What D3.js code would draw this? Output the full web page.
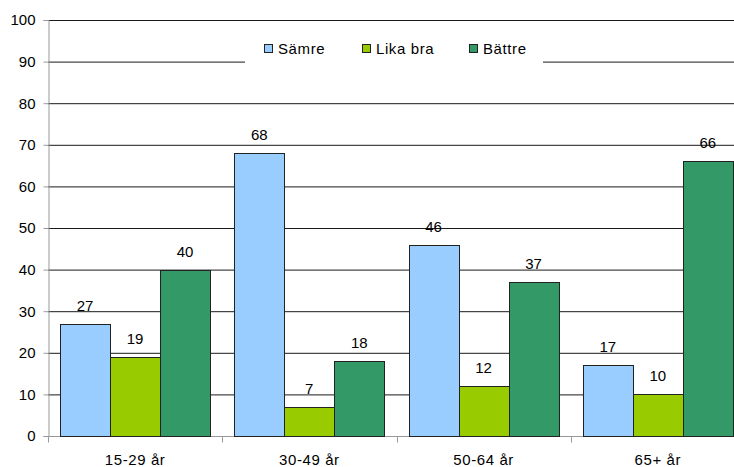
<!DOCTYPE html>
<html>
<head>
<meta charset="utf-8">
<script src="https://cdn.jsdelivr.net/npm/d3@7"></script>
<style>
	body { margin: 0; background: #fff; }
	svg { display: block; font-family: "Liberation Sans", Arial, sans-serif; }
</style>
</head>
<body>
<svg id="chart" width="734" height="467"></svg>
<script>
const categories = ["15-29 år", "30-49 år", "50-64 år", "65+ år"];
const seriesNames = ["Sämre", "Lika bra", "Bättre"];
const seriesColors = ["#99ccff", "#99cc00", "#339966"];
const samre = [27, 68, 46, 17];
const likaBra = [19, 7, 12, 10];
const battre = [40, 18, 37, 66];
const yTicks = [0, 10, 20, 30, 40, 50, 60, 70, 80, 90, 100];

const values = [samre, likaBra, battre];

const svg = d3.select("#chart");
const plotLeft = 48, plotBottom = 436, plotTop = 20, plotRight = 745;

const x0 = d3.scaleBand().domain(categories).range([plotLeft, plotRight]);
const x1 = d3.scaleBand().domain(seriesNames).range([12, 162]);
const y = d3.scaleLinear().domain([0, 100]).range([plotBottom, plotTop]);

// gridlines
svg.append("g")
	.selectAll("line")
	.data(yTicks.filter((d) => d > 0))
	.enter()
	.append("line")
	.attr("x1", plotLeft)
	.attr("x2", 734)
	.attr("y1", (d) => y(d) + 0.5)
	.attr("y2", (d) => y(d) + 0.5)
	.attr("stroke", "#1a1a1a")
	.attr("stroke-width", 1);

// y axis
const yAxis = svg.append("g")
	.attr("transform", `translate(${plotLeft + 0.5},0)`)
	.call(d3.axisLeft(y).tickValues(yTicks).tickSize(5).tickPadding(8));
yAxis.select(".domain").attr("stroke", "#999");
yAxis.selectAll(".tick line").attr("stroke", "#999");
yAxis.selectAll(".tick text")
	.attr("font-size", 15)
	.attr("font-family", "Liberation Sans, Arial, sans-serif")
	.attr("fill", "#000");

// x axis
const xAxisG = svg.append("g").attr("transform", `translate(0,${plotBottom + 0.5})`);
xAxisG.append("line")
	.attr("x1", plotLeft)
	.attr("x2", 734)
	.attr("stroke", "#999");
xAxisG.selectAll(".xtick")
	.data(categories)
	.enter()
	.append("line")
	.attr("x1", (d) => Math.round(x0(d)) + 0.5)
	.attr("x2", (d) => Math.round(x0(d)) + 0.5)
	.attr("y1", 0)
	.attr("y2", 6)
	.attr("stroke", "#999");
xAxisG.selectAll(".xlabel")
	.data(categories)
	.enter()
	.append("text")
	.attr("x", (d) => x0(d) + x0.bandwidth() / 2)
	.attr("y", 28)
	.attr("text-anchor", "middle")
	.attr("font-size", 15)
	.attr("letter-spacing", 0.6)
	.attr("fill", "#000")
	.text((d) => d);

// bars
seriesNames.forEach((s, si) => {
	const g = svg.append("g");
	g.selectAll("rect")
		.data(categories)
		.enter()
		.append("rect")
		.attr("x", (d) => Math.round(x0(d) + x1(s)) + 0.5)
		.attr("y", (d, i) => Math.round(y(values[si][i])) + 0.5)
		.attr("width", x1.bandwidth())
		.attr("height", (d, i) => plotBottom - Math.round(y(values[si][i])))
		.attr("fill", seriesColors[si])
		.attr("stroke", "#222")
		.attr("stroke-width", 1);
	g.selectAll("text")
		.data(categories)
		.enter()
		.append("text")
		.attr("x", (d) => x0(d) + x1(s) + x1.bandwidth() / 2)
		.attr("y", (d, i) => y(values[si][i]) - 13)
		.attr("text-anchor", "middle")
		.attr("font-size", 15)
		.attr("fill", "#000")
		.text((d, i) => values[si][i]);
});

// legend
const legend = svg.append("g");
legend.append("rect")
	.attr("x", 245)
	.attr("y", 36)
	.attr("width", 298)
	.attr("height", 28)
	.attr("fill", "#fff");
const legendX = [264, 362, 469];
seriesNames.forEach((s, i) => {
	legend.append("rect")
		.attr("x", legendX[i] + 0.5)
		.attr("y", 44.5)
		.attr("width", 8)
		.attr("height", 8)
		.attr("fill", seriesColors[i])
		.attr("stroke", "#222");
	legend.append("text")
		.attr("x", legendX[i] + 14)
		.attr("y", 54)
		.attr("font-size", 15)
		.attr("letter-spacing", 0.6)
		.attr("fill", "#000")
		.text(s);
});
</script>
</body>
</html>
